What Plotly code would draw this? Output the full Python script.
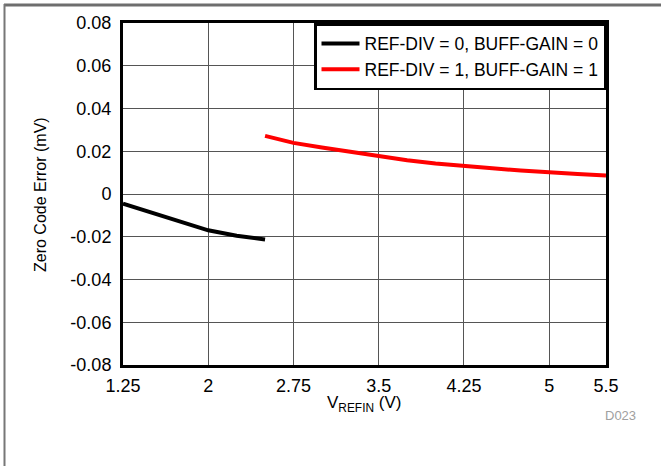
import plotly.graph_objects as go

# Data
x_black = [1.25, 1.5, 1.75, 2.0, 2.25, 2.5]
y_black = [-0.0045, -0.0087, -0.0130, -0.0170, -0.0195, -0.0213]

x_red = [2.5, 2.75, 3.0, 3.25, 3.5, 3.75, 4.0, 4.25, 4.5, 4.75, 5.0, 5.25, 5.5]
y_red = [0.0272, 0.0239, 0.0218, 0.0197, 0.0176, 0.0158, 0.0143, 0.0130, 0.0120, 0.0110, 0.0100, 0.0093, 0.0086]

x_ticks = [1.25, 2, 2.75, 3.5, 4.25, 5, 5.5]
x_tick_labels = ["1.25", "2", "2.75", "3.5", "4.25", "5", "5.5"]
y_ticks = [-0.08, -0.06, -0.04, -0.02, 0, 0.02, 0.04, 0.06, 0.08]
y_tick_labels = ["-0.08", "-0.06", "-0.04", "-0.02", "0", "0.02", "0.04", "0.06", "0.08"]

series_names = ["REF-DIV = 0, BUFF-GAIN = 0", "REF-DIV = 1, BUFF-GAIN = 1"]

FONT = "Liberation Sans, Arial, sans-serif"

fig = go.Figure()
fig.add_trace(go.Scatter(x=x_black, y=y_black, mode="lines", name=series_names[0],
                         line=dict(color="black", width=4)))
fig.add_trace(go.Scatter(x=x_red, y=y_red, mode="lines", name=series_names[1],
                         line=dict(color="#ff0000", width=4)))

L, R, T, B = 123, 55, 23, 101
W, H = 661, 466
pw, ph = W - L - R, H - T - B

def px_x(p):
    return (p - L) / pw

def px_y(p):
    return (H - B - p) / ph

axis_common = dict(showline=True, linecolor="black", linewidth=3, mirror=True,
                   showgrid=True, gridcolor="#555555", gridwidth=1.3,
                   zeroline=False, ticks="", automargin=False,
                   tickfont=dict(size=18, color="black", family=FONT))

fig.update_xaxes(range=[1.25, 5.5], tickvals=x_ticks, ticktext=x_tick_labels,
                 ticklabelstandoff=2, **axis_common)
fig.update_yaxes(range=[-0.08, 0.08], tickvals=y_ticks, ticktext=y_tick_labels,
                 ticklabelstandoff=5, **axis_common)

fig.update_layout(
    width=W, height=H,
    margin=dict(l=L, r=R, t=T, b=B),
    paper_bgcolor="white", plot_bgcolor="white",
    font=dict(family=FONT, color="black", size=17),
    showlegend=True,
    legend=dict(x=1, y=1, xanchor="right", yanchor="top",
                bgcolor="white", bordercolor="black", borderwidth=2.5,
                itemwidth=38,
                font=dict(size=17.5, family=FONT), tracegroupgap=0),
    annotations=[
        dict(text="Zero Code Error (mV)", textangle=-90, xref="paper", yref="paper",
             x=px_x(40), y=px_y(195), showarrow=False, font=dict(size=16, family=FONT),
             xanchor="center", yanchor="middle"),
        dict(text="V<sub>REFIN</sub> (V)", xref="paper", yref="paper",
             x=px_x(364), y=px_y(404), showarrow=False, font=dict(size=17, family=FONT),
             xanchor="center", yanchor="middle"),
        dict(text="D023", xref="paper", yref="paper",
             x=px_x(620), y=px_y(415), showarrow=False, font=dict(size=13, family=FONT, color="#a0a0a0"),
             xanchor="center", yanchor="middle"),
    ],
    shapes=[
        dict(type="line", xref="paper", yref="paper",
             x0=px_x(4), x1=px_x(661), y0=px_y(5), y1=px_y(5),
             line=dict(color="#6e6e6e", width=3), layer="above"),
        dict(type="line", xref="paper", yref="paper",
             x0=px_x(4.5), x1=px_x(4.5), y0=px_y(4), y1=px_y(470),
             line=dict(color="#777777", width=2), layer="above"),
    ],
)

fig.write_html("out.html", config={"displayModeBar": False},
               post_script="document.body.style.margin='0';document.body.style.overflow='hidden';")
